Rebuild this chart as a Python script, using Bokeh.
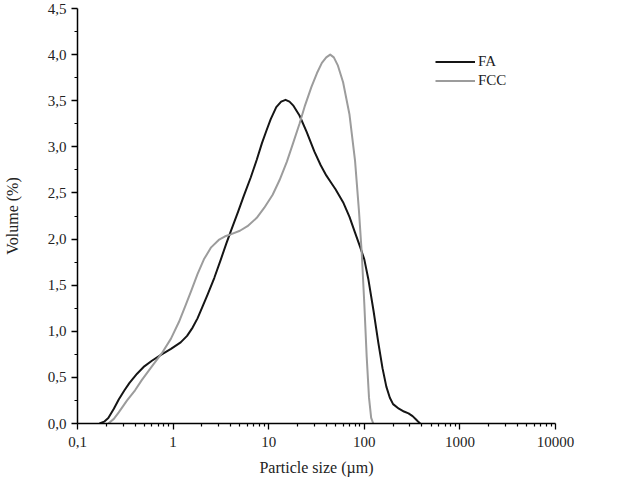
from bokeh.plotting import figure
from bokeh.models import Range1d, FixedTicker, CustomJSTickFormatter, Legend, LegendItem
from bokeh.embed import file_html
from bokeh.resources import INLINE

# Particle size distribution
fa_x = [0.17, 0.19, 0.21, 0.24, 0.27, 0.31, 0.35, 0.42, 0.50, 0.60, 0.76, 0.95, 1.2, 1.4,
        1.6, 1.8, 2.0, 2.3, 2.7, 3.16, 3.6, 4.0, 4.8, 5.5, 6.5, 7.5, 8.5, 9.5, 10.5, 12,
        13.5, 15, 16.5, 18, 21, 25, 30, 35, 40, 45, 50, 60, 70, 80, 90, 100, 110, 125,
        140, 155, 170, 185, 200, 230, 260, 290, 320, 350, 370, 385]
fa_y = [0.0, 0.02, 0.06, 0.16, 0.26, 0.36, 0.44, 0.54, 0.62, 0.68, 0.75, 0.81, 0.88, 0.95,
        1.04, 1.14, 1.25, 1.40, 1.58, 1.78, 1.95, 2.08, 2.30, 2.47, 2.67, 2.86, 3.04, 3.18, 3.30, 3.43,
        3.49, 3.51, 3.49, 3.45, 3.34, 3.16, 2.95, 2.80, 2.69, 2.61, 2.54, 2.40, 2.24, 2.07, 1.92, 1.78, 1.57, 1.22,
        0.88, 0.60, 0.40, 0.28, 0.21, 0.16, 0.13, 0.11, 0.08, 0.04, 0.015, 0.0]

fcc_x = [0.21, 0.24, 0.27, 0.33, 0.40, 0.47, 0.60, 0.76, 0.95, 1.15, 1.35, 1.55, 1.8, 2.1,
         2.5, 3.0, 3.5, 4.0, 5.0, 6.0, 7.5, 9.0, 11, 13, 15.5, 18, 21, 24, 28, 32, 36, 40,
         44, 48, 53, 60, 70, 80, 88, 94, 100, 106, 112, 118, 124]
fcc_y = [0.0, 0.05, 0.12, 0.25, 0.36, 0.47, 0.62, 0.76, 0.92, 1.10, 1.28, 1.44, 1.62, 1.78,
         1.91, 1.99, 2.03, 2.05, 2.09, 2.14, 2.23, 2.34, 2.48, 2.64, 2.84, 3.04, 3.25, 3.45, 3.65, 3.80, 3.91, 3.97,
         4.00, 3.97, 3.88, 3.70, 3.35, 2.85, 2.30, 1.85, 1.30, 0.72, 0.28, 0.06, 0.0]

x_ticks = [0.1, 1, 10, 100, 1000, 10000]
x_minor = [m * 10 ** k for k in range(-1, 4) for m in range(2, 10)]
y_ticks = [0.0, 0.5, 1.0, 1.5, 2.0, 2.5, 3.0, 3.5, 4.0, 4.5]
y_minor = [0.25, 0.75, 1.25, 1.75, 2.25, 2.75, 3.25, 3.75, 4.25]

FONT = "Liberation Serif"

p = figure(width=602, height=481, x_axis_type="log",
           x_range=Range1d(0.1, 10000), y_range=Range1d(0, 4.5),
           output_backend="svg", toolbar_location=None,
           min_border_left=75, min_border_right=47, min_border_top=8, min_border_bottom=58)
p.outline_line_color = None
p.xgrid.visible = False
p.ygrid.visible = False
p.background_fill_color = "white"
p.border_fill_color = "white"

r1 = p.line(fa_x, fa_y, line_color="#151515", line_width=2, line_join="round")
r2 = p.line(fcc_x, fcc_y, line_color="#9c9c9c", line_width=2, line_join="round")

xa = p.xaxis[0]
xa.ticker = FixedTicker(ticks=x_ticks, minor_ticks=x_minor)
xa.formatter = CustomJSTickFormatter(code="return tick < 1 ? tick.toFixed(1).replace('.', ',') : tick.toFixed(0);")
xa.axis_label = "Particle size (µm)"
xa.axis_label_standoff = 9
xa.major_label_standoff = 7

ya = p.yaxis[0]
ya.ticker = FixedTicker(ticks=y_ticks, minor_ticks=y_minor)
ya.formatter = CustomJSTickFormatter(code="return tick.toFixed(1).replace('.', ',');")
ya.axis_label = "Volume (%)"
ya.axis_label_standoff = 24
ya.major_label_standoff = 5

for ax in (xa, ya):
    ax.axis_line_color = "black"
    ax.axis_line_width = 1.5
    ax.major_tick_line_color = "black"
    ax.minor_tick_line_color = "black"
    ax.major_tick_line_width = 1.3
    ax.minor_tick_line_width = 1.2
    ax.major_tick_in = 0
    ax.major_tick_out = 6
    ax.minor_tick_in = 0
    ax.minor_tick_out = 3
    ax.major_label_text_font = FONT
    ax.major_label_text_font_size = "15px"
    ax.major_label_text_color = "#222222"
    ax.axis_label_text_font = FONT
    ax.axis_label_text_font_size = "16px"
    ax.axis_label_text_font_style = "normal"
    ax.axis_label_text_color = "#222222"

legend = Legend(items=[LegendItem(label="FA", renderers=[r1]),
                       LegendItem(label="FCC", renderers=[r2])],
                location=(358, 333), padding=0, margin=0, spacing=0,
                glyph_width=40, glyph_height=19, label_height=19, label_standoff=3,
                label_text_font=FONT, label_text_font_size="15px", label_text_color="#222222",
                border_line_color=None, background_fill_alpha=0)
p.add_layout(legend)

open("out.html", "w").write(file_html(p, INLINE))
